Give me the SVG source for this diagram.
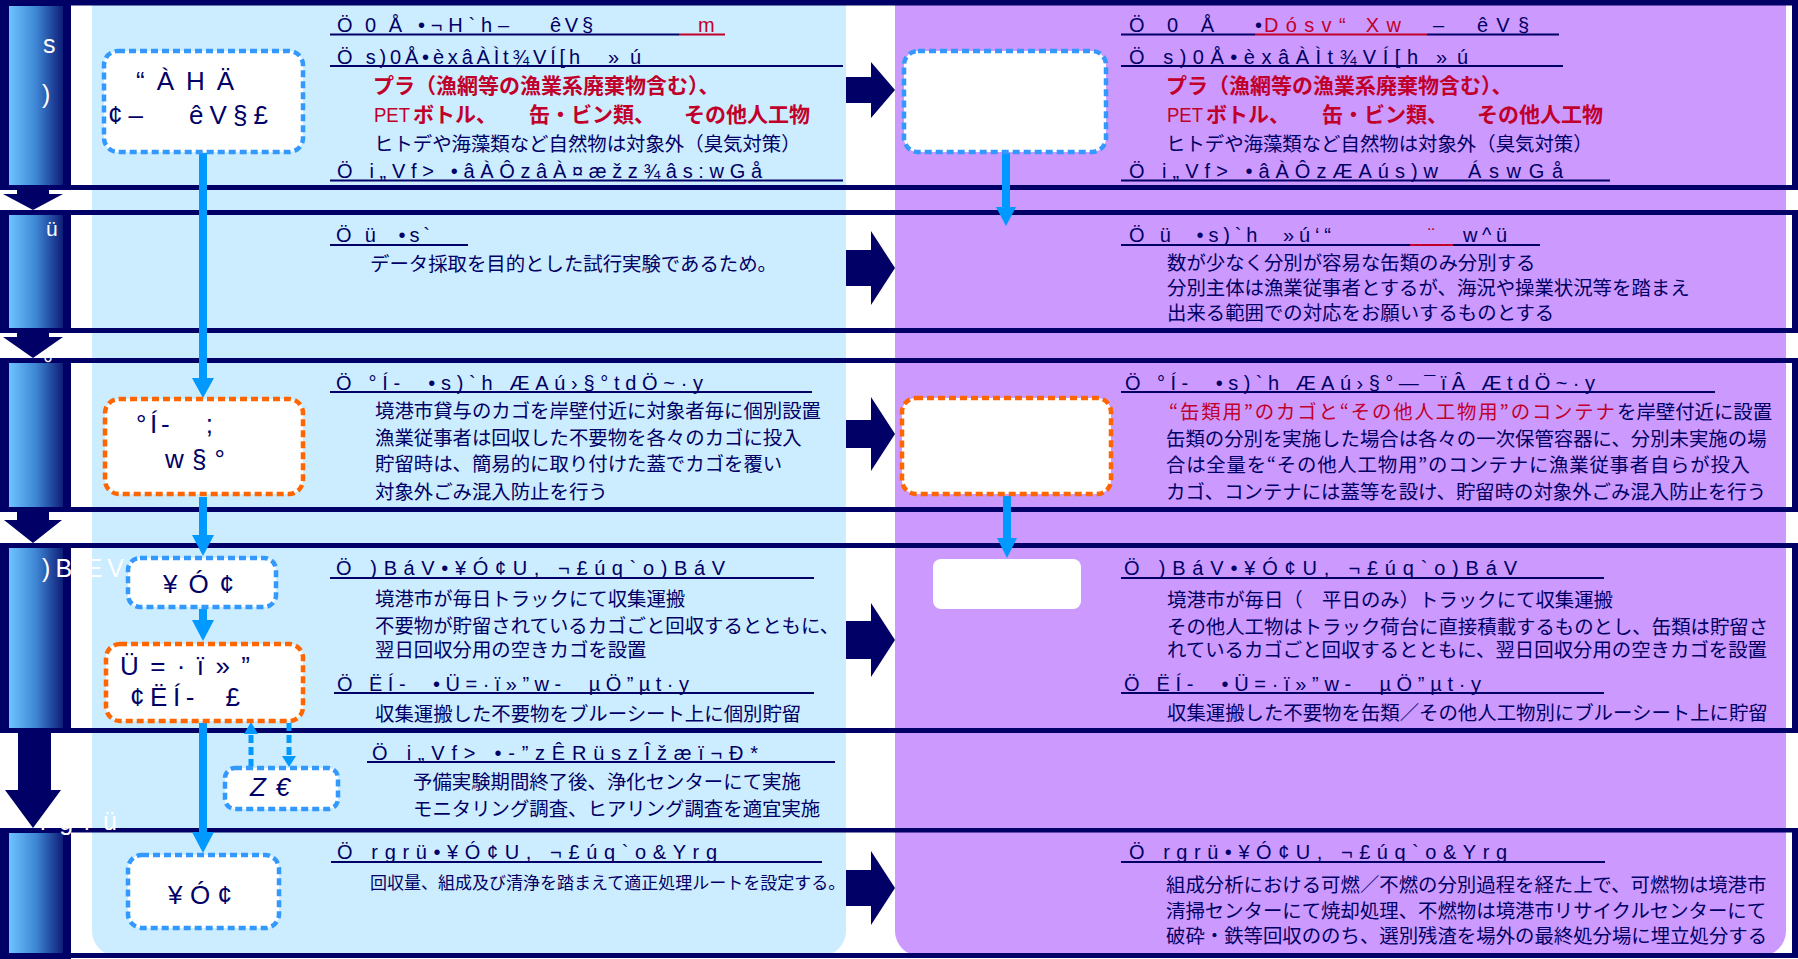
<svg xmlns="http://www.w3.org/2000/svg" width="1798" height="959" viewBox="0 0 1798 959">
<defs>
<linearGradient id="blkg" x1="0" y1="0" x2="1" y2="0">
<stop offset="0" stop-color="#6EC3FF"/>
<stop offset="0.5" stop-color="#3E86D4"/>
<stop offset="1" stop-color="#0E1E78"/>
</linearGradient>
<style>
.hd{font-family:"Liberation Sans",Arial,sans-serif;font-size:20px;fill:#000066}
.hdr{font-family:"Liberation Sans",Arial,sans-serif;font-size:20px;fill:#C0002A}
.bd{font-family:"Noto Sans CJK JP","Noto Sans CJK SC",sans-serif;font-size:19.4px;fill:#000066}
.bdr{font-family:"Noto Sans CJK JP","Noto Sans CJK SC",sans-serif;font-size:19.4px;fill:#C0002A}
.rd{font-family:"Noto Sans CJK JP","Noto Sans CJK SC",sans-serif;font-size:21px;font-weight:bold;fill:#C0002A}
.pet{font-family:"Liberation Sans",Arial,sans-serif;font-size:21px;fill:#C0002A}
.bx{font-family:"Liberation Sans",Arial,sans-serif;font-size:26px;fill:#000066}
.wt{font-family:"Liberation Sans",Arial,sans-serif;font-size:25px;fill:#ffffff}
.ul{fill:#000066}
.ulr{fill:#C0002A}
.nv{fill:#000066}
.bbox{fill:#ffffff;stroke:#3399FF;stroke-width:4.5;stroke-dasharray:7 4}
.obox{fill:#ffffff;stroke:#FF6600;stroke-width:4.5;stroke-dasharray:7 4}
.con{stroke:#0099FF;stroke-width:8;fill:none}
.dsh{stroke:#0099FF;stroke-width:5;stroke-dasharray:8 4;fill:none}
.ah{fill:#0099FF}
</style>
</defs>
<rect x="0" y="0" width="1798" height="959" fill="#ffffff"/>
<g id="panels">
<rect x="92" y="-40" width="754" height="996" rx="25" fill="#CCECFF"/>
<rect x="895" y="-40" width="891" height="996" rx="25" fill="#CC99FF"/>
</g>
<g id="row-frames" class="nv">
<rect x="0" y="0" width="1798" height="5.5"/>
<rect x="0" y="185" width="1798" height="5"/>
<rect x="1792" y="0" width="6" height="190"/>
<rect x="0" y="210" width="1798" height="5"/>
<rect x="0" y="328" width="1798" height="5"/>
<rect x="1792" y="210" width="6" height="123"/>
<rect x="0" y="358" width="1798" height="5"/>
<rect x="0" y="507" width="1798" height="5"/>
<rect x="1792" y="358" width="6" height="154"/>
<rect x="0" y="543" width="1798" height="5"/>
<rect x="0" y="728" width="1798" height="5"/>
<rect x="1792" y="543" width="6" height="190"/>
<rect x="0" y="828" width="1798" height="4.5"/>
<rect x="0" y="953" width="1798" height="5"/>
<rect x="1792" y="828" width="6" height="130"/>
</g>
<g id="blk1"><rect class="nv" x="0" y="0" width="71" height="190"/><rect x="9" y="6" width="54" height="179" fill="url(#blkg)"/>
<text class="wt" x="43" y="53">s</text><text class="wt" x="42" y="103">)</text></g>
<g id="blk2"><rect class="nv" x="0" y="210" width="71" height="123"/><rect x="9" y="215" width="54" height="113" fill="url(#blkg)"/>
<text class="wt" x="46" y="236" style="font-size:21px">ü</text></g>
<g id="blk3"><rect class="nv" x="0" y="358" width="71" height="154"/><rect x="9" y="363" width="54" height="144" fill="url(#blkg)"/>
<text class="wt" x="43" y="373">°</text></g>
<g id="blk4"><rect class="nv" x="0" y="543" width="71" height="190"/><rect x="9" y="548" width="54" height="180" fill="url(#blkg)"/>
<text class="wt" x="42" y="577" textLength="82" lengthAdjust="spacing">)BÆV</text></g>
<g id="blk5"><rect class="nv" x="0" y="828" width="71" height="131"/><rect x="9" y="833" width="54" height="120" fill="url(#blkg)"/>
<text class="wt" x="40" y="830" textLength="77" lengthAdjust="spacing">rgrü</text></g>
<g id="connectors">
<polygon class="nv" points="17,190 49,190 49,194 63,194 33,210 3,194 17,194"/>
<polygon class="nv" points="17,333 49,333 49,337 63,337 33,358 3,337 17,337"/>
<polygon class="nv" points="17,512 49,512 49,520 62,520 33,543 4,520 17,520"/>
<polygon class="nv" points="18,733 51,733 51,790 61,790 33,828 5,790 18,790"/>
<polygon class="nv" points="846,77 871,77 871,62 895,90 871,118 871,103 846,103"/>
<polygon class="nv" points="846,250 871,250 871,231 895,268 871,305 871,286 846,286"/>
<polygon class="nv" points="846,420 871,420 871,397 895,434 871,471 871,448 846,448"/>
<polygon class="nv" points="846,621 871,621 871,603 895,640 871,677 871,659 846,659"/>
<polygon class="nv" points="846,870 871,870 871,851 895,888 871,925 871,906 846,906"/>
<path class="con" d="M203 153V380"/><polygon class="ah" points="192,378 214,378 203,398"/>
<path class="con" d="M203 497V537"/><polygon class="ah" points="192,535 214,535 203,556"/>
<path class="con" d="M203 609V622"/><polygon class="ah" points="192,620 214,620 203,641"/>
<path class="con" d="M203 723V834"/><polygon class="ah" points="192,832 214,832 203,853"/>
<path class="con" d="M1006 153V209"/><polygon class="ah" points="996,207 1016,207 1006,226"/>
<path class="con" d="M1007 496V540"/><polygon class="ah" points="997,538 1017,538 1007,558"/>
<path class="dsh" d="M251 767V733"/><polygon class="ah" points="244,734 258,734 251,722"/>
<path class="dsh" d="M289 723V757"/><polygon class="ah" points="282,756 296,756 289,767"/>
</g>
<g id="node-l1"><rect class="bbox" x="104" y="51" width="199" height="101" rx="14"/>
<text class="bx" x="136" y="90" textLength="98" lengthAdjust="spacing">“ÀHÄ</text>
<text class="bx" x="108" y="124" textLength="160" lengthAdjust="spacing" xml:space="preserve">¢–   êV§£</text></g>
<g id="node-l3"><rect class="obox" x="105" y="399" width="198" height="95" rx="14"/>
<text class="bx" x="136" y="433" textLength="77" lengthAdjust="spacing" xml:space="preserve">°Í-   ;</text>
<text class="bx" x="165" y="468" textLength="60" lengthAdjust="spacing">w§°</text></g>
<g id="node-l4"><rect class="bbox" x="128" y="558" width="148" height="49" rx="12"/>
<text class="bx" x="163" y="593" textLength="71" lengthAdjust="spacing">¥Ó¢</text></g>
<g id="node-l4b"><rect class="obox" x="106" y="644" width="197" height="77" rx="14"/>
<text class="bx" x="120" y="675" textLength="130" lengthAdjust="spacing">Ü=·ï»”</text>
<text class="bx" x="130" y="706" textLength="110" lengthAdjust="spacing" xml:space="preserve">¢ËÍ-  £</text></g>
<g id="node-lz"><rect class="bbox" x="225" y="768" width="113" height="41" rx="10"/>
<text class="bx" x="250" y="796" textLength="40" lengthAdjust="spacing" style="font-style:italic">Z€</text></g>
<g id="node-l5"><rect class="bbox" x="128" y="855" width="151" height="73" rx="14"/>
<text class="bx" x="168" y="904" textLength="64" lengthAdjust="spacing">¥Ó¢</text></g>
<g id="node-p1"><rect class="bbox" x="904" y="51" width="202" height="101" rx="14"/></g>
<g id="node-p3"><rect class="obox" x="902" y="398" width="209" height="96" rx="14"/></g>
<g id="node-p4"><rect x="933" y="559" width="148" height="50" rx="8" fill="#ffffff"/></g>
<g id="text-left">
<text class="hd" x="337" y="32" textLength="65" lengthAdjust="spacing">Ö 0 Å</text>
<text class="hd" x="418" y="32" textLength="91" lengthAdjust="spacing">•¬H`h–</text>
<text class="hd" x="550" y="32" textLength="43" lengthAdjust="spacing">êV§</text>
<text class="hdr" x="698" y="32">m</text>
<rect class="ul" x="330" y="33.5" width="349" height="2"/><rect class="ulr" x="679" y="33.5" width="46" height="2"/>
<text class="hd" x="337" y="64" textLength="243" lengthAdjust="spacing">Ö s)0Å•èxâÀÌt¾VÍ[h</text>
<text class="hd" x="608" y="64" textLength="33" lengthAdjust="spacing">»ú</text>
<rect class="ul" x="330" y="65" width="513" height="2"/>
<text class="rd" x="373" y="93">プラ（漁網等の漁業系廃棄物含む）、</text>
<text class="pet" x="374" y="122" textLength="36" lengthAdjust="spacingAndGlyphs">PET</text>
<text class="rd" x="413" y="122">ボトル、</text>
<text class="rd" x="529" y="122">缶・ビン類、</text>
<text class="rd" x="684" y="122">その他人工物</text>
<text class="bd" x="374" y="151">ヒトデや海藻類など自然物は対象外（臭気対策）</text>
<text class="hd" x="337" y="178" textLength="425" lengthAdjust="spacing" xml:space="preserve">Ö i„Vf> •âÀÔzâÀ¤æžz¾âs:wGå</text>
<rect class="ul" x="330" y="179.5" width="513" height="2"/>
<text class="hd" x="336" y="242" textLength="94" lengthAdjust="spacing" xml:space="preserve">Ö ü  •s`</text>
<rect class="ul" x="330" y="244" width="138" height="2"/>
<text class="bd" x="370" y="271">データ採取を目的とした試行実験であるため。</text>
<text class="hd" x="336" y="390" textLength="367" lengthAdjust="spacing" xml:space="preserve">Ö °Í-  •s)`h ÆAú›§°tdÖ~·y</text>
<rect class="ul" x="330" y="391" width="482" height="2"/>
<text class="bd" x="375" y="418">境港市貸与のカゴを岸壁付近に対象者毎に個別設置</text>
<text class="bd" x="375" y="445">漁業従事者は回収した不要物を各々のカゴに投入</text>
<text class="bd" x="375" y="471">貯留時は、簡易的に取り付けた蓋でカゴを覆い</text>
<text class="bd" x="375" y="499">対象外ごみ混入防止を行う</text>
<text class="hd" x="336" y="575" textLength="389" lengthAdjust="spacing" xml:space="preserve">Ö )BáV•¥Ó¢U, ¬£úq`o)BáV</text>
<rect class="ul" x="330" y="577" width="484" height="2"/>
<text class="bd" x="375" y="606">境港市が毎日トラックにて収集運搬</text>
<text class="bd" x="375" y="633">不要物が貯留されているカゴごと回収するとともに、</text>
<text class="bd" x="375" y="657">翌日回収分用の空きカゴを設置</text>
<text class="hd" x="337" y="691" textLength="352" lengthAdjust="spacing" xml:space="preserve">Ö ËÍ-  •Ü=·ï»”w-  µÖ”µt·y</text>
<rect class="ul" x="334" y="692" width="480" height="2"/>
<text class="bd" x="375" y="721">収集運搬した不要物をブルーシート上に個別貯留</text>
<text class="hd" x="372" y="760" textLength="386" lengthAdjust="spacing" xml:space="preserve">Ö i„Vf> •-”zÊRüszÎžæï¬Ð*</text>
<rect class="ul" x="367" y="761" width="468" height="2"/>
<text class="bd" x="413" y="789">予備実験期間終了後、浄化センターにて実施</text>
<text class="bd" x="413" y="816">モニタリング調査、ヒアリング調査を適宜実施</text>
<text class="hd" x="337" y="859" textLength="380" lengthAdjust="spacing">Ö rgrü•¥Ó¢U, ¬£úq`o&amp;Yrg</text>
<rect class="ul" x="331" y="861" width="491" height="2"/>
<text class="bd" x="370" y="889" style="font-size:17px">回収量、組成及び清浄を踏まえて適正処理ルートを設定する。</text>
</g>
<g id="text-right">
<text class="hd" x="1129" y="32" textLength="85" lengthAdjust="spacing">Ö 0 Å</text>
<text class="hd" x="1255" y="32">•</text>
<text class="hdr" x="1264" y="32" textLength="137" lengthAdjust="spacing">Dósv“ Xw</text>
<text class="hd" x="1433" y="32">–</text>
<text class="hd" x="1477" y="32" textLength="52" lengthAdjust="spacing">êV§</text>
<rect class="ul" x="1121" y="33.5" width="134" height="2"/><rect class="ulr" x="1255" y="33.5" width="172" height="2"/><rect class="ul" x="1427" y="33.5" width="132" height="2"/>
<text class="hd" x="1129" y="64" textLength="289" lengthAdjust="spacing">Ö s)0Å•èxâÀÌt¾VÍ[h</text>
<text class="hd" x="1436" y="64" textLength="32" lengthAdjust="spacing">»ú</text>
<rect class="ul" x="1121" y="65" width="442" height="2"/>
<text class="rd" x="1166" y="93">プラ（漁網等の漁業系廃棄物含む）、</text>
<text class="pet" x="1167" y="122" textLength="36" lengthAdjust="spacingAndGlyphs">PET</text>
<text class="rd" x="1206" y="122">ボトル、</text>
<text class="rd" x="1322" y="122">缶・ビン類、</text>
<text class="rd" x="1477" y="122">その他人工物</text>
<text class="bd" x="1166" y="151">ヒトデや海藻類など自然物は対象外（臭気対策）</text>
<text class="hd" x="1129" y="178" textLength="309" lengthAdjust="spacing" xml:space="preserve">Ö i„Vf> •âÀÔzÆAús)w</text>
<text class="hd" x="1468" y="178" textLength="95" lengthAdjust="spacing">ÁswGå</text>
<rect class="ul" x="1121" y="179.5" width="489" height="2"/>
<text class="hd" x="1129" y="242" textLength="202" lengthAdjust="spacing" xml:space="preserve">Ö ü  •s)`h  »ú‘“</text>
<text class="hdr" x="1428" y="242">¨</text>
<text class="hd" x="1463" y="242" textLength="44" lengthAdjust="spacing">w^ü</text>
<rect class="ul" x="1121" y="244" width="289" height="2"/><rect class="ulr" x="1410" y="244" width="43" height="2"/><rect class="ul" x="1453" y="244" width="87" height="2"/>
<text class="bd" x="1167" y="270">数が少なく分別が容易な缶類のみ分別する</text>
<text class="bd" x="1167" y="295">分別主体は漁業従事者とするが、海況や操業状況等を踏まえ</text>
<text class="bd" x="1167" y="320">出来る範囲での対応をお願いするものとする</text>
<text class="hd" x="1125" y="390" textLength="470" lengthAdjust="spacing" xml:space="preserve">Ö °Í-  •s)`h ÆAú›§°—¯ïÂ ÆtdÖ~·y</text>
<rect class="ul" x="1121" y="391" width="594" height="2"/>
<text class="bdr" x="1169" y="419" textLength="446" lengthAdjust="spacing">“缶類用”のカゴと“その他人工物用”のコンテナ</text>
<text class="bd" x="1617" y="419">を岸壁付近に設置</text>
<text class="bd" x="1166" y="446">缶類の分別を実施した場合は各々の一次保管容器に、分別未実施の場</text>
<text class="bd" x="1166" y="472" textLength="584" lengthAdjust="spacing">合は全量を“その他人工物用”のコンテナに漁業従事者自らが投入</text>
<text class="bd" x="1166" y="499">カゴ、コンテナには蓋等を設け、貯留時の対象外ごみ混入防止を行う</text>
<text class="hd" x="1124" y="575" textLength="393" lengthAdjust="spacing" xml:space="preserve">Ö )BáV•¥Ó¢U, ¬£úq`o)BáV</text>
<rect class="ul" x="1121" y="577" width="483" height="2"/>
<text class="bd" x="1167" y="607">境港市が毎日（　平日のみ）トラックにて収集運搬</text>
<text class="bd" x="1167" y="634">その他人工物はトラック荷台に直接積載するものとし、缶類は貯留さ</text>
<text class="bd" x="1167" y="657">れているカゴごと回収するとともに、翌日回収分用の空きカゴを設置</text>
<text class="hd" x="1124" y="691" textLength="357" lengthAdjust="spacing" xml:space="preserve">Ö ËÍ-  •Ü=·ï»”w-  µÖ”µt·y</text>
<rect class="ul" x="1121" y="692" width="483" height="2"/>
<text class="bd" x="1167" y="720">収集運搬した不要物を缶類／その他人工物別にブルーシート上に貯留</text>
<text class="hd" x="1129" y="859" textLength="378" lengthAdjust="spacing">Ö rgrü•¥Ó¢U, ¬£úq`o&amp;Yrg</text>
<rect class="ul" x="1121" y="861" width="484" height="2"/>
<text class="bd" x="1166" y="892">組成分析における可燃／不燃の分別過程を経た上で、可燃物は境港市</text>
<text class="bd" x="1166" y="918">清掃センターにて焼却処理、不燃物は境港市リサイクルセンターにて</text>
<text class="bd" x="1166" y="943">破砕・鉄等回収ののち、選別残渣を場外の最終処分場に埋立処分する</text>
</g>
</svg>
